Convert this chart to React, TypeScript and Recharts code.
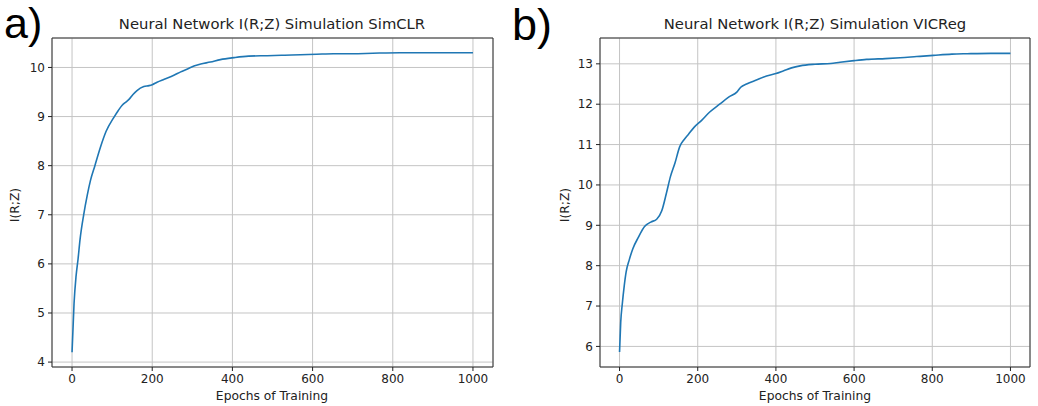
import { LineChart, Line, XAxis, YAxis, CartesianGrid, ReferenceArea } from "recharts";

// SimCLR run
const simclrEpochs = [
  0, 5, 10, 15, 20, 29, 38, 46, 57, 71, 85, 104, 115, 125, 135, 142, 152, 162, 179, 192, 200, 212, 230,
  254, 271, 288, 304, 321, 345, 370, 404, 440, 487, 530, 570, 610, 652, 700, 750, 818, 900, 1000,
];
const simclrValues = [
  4.2, 5.2, 5.75, 6.1, 6.5, 7.0, 7.4, 7.7, 8.0, 8.38, 8.7, 8.98, 9.12, 9.23, 9.3, 9.35, 9.45, 9.53, 9.61,
  9.63, 9.65, 9.7, 9.76, 9.84, 9.91, 9.97, 10.03, 10.07, 10.11, 10.16, 10.2, 10.23, 10.24, 10.25, 10.26,
  10.27, 10.28, 10.28, 10.29, 10.3, 10.3, 10.3,
];

// VICReg run
const vicregEpochs = [
  0, 3, 7, 12, 17, 25, 34, 48, 64, 80, 95, 108, 120, 130, 142, 154, 165, 176, 190, 210, 230, 256, 280,
  300, 310, 325, 350, 376, 400, 420, 440, 462, 500, 540, 564, 600, 632, 680, 718, 760, 803, 850, 889, 950,
  1000,
];
const vicregValues = [
  5.86, 6.6, 7.05, 7.5, 7.85, 8.15, 8.42, 8.7, 8.97, 9.08, 9.15, 9.36, 9.8, 10.2, 10.55, 10.95, 11.12, 11.25,
  11.42, 11.6, 11.8, 12.0, 12.18, 12.3, 12.42, 12.5, 12.6, 12.7, 12.76, 12.83, 12.9, 12.95, 12.99, 13.01,
  13.04, 13.08, 13.11, 13.13, 13.15, 13.18, 13.21, 13.24, 13.25, 13.26, 13.26,
];

const xTicks = [0, 200, 400, 600, 800, 1000];
const simclrTicks = [4, 5, 6, 7, 8, 9, 10];
const vicregTicks = [6, 7, 8, 9, 10, 11, 12, 13];

const FONT = "'DejaVu Sans', sans-serif";
const TICK = { fill: "#222", fontSize: 12, fontFamily: FONT };

interface PanelProps {
  epochs: number[];
  values: number[];
  yTicks: number[];
  yDomain: [number, number];
  width: number;
}

function Panel({ epochs, values, yTicks, yDomain, width }: PanelProps) {
  const rows = epochs.map((e, i) => ({ epoch: e, v: values[i] }));
  return (
    <LineChart
      width={width}
      height={406}
      data={rows}
      margin={{ top: 38, right: 8, bottom: 0, left: 0 }}
    >
      <CartesianGrid stroke="#c4c4c4" strokeWidth={1} />
      <XAxis
        dataKey="epoch"
        type="number"
        domain={[-50, 1050]}
        ticks={xTicks}
        height={39}
        tickSize={4}
        tickMargin={3}
        tick={TICK}
        stroke="#222"
        axisLine={false}
      />
      <YAxis
        type="number"
        domain={yDomain}
        ticks={yTicks}
        width={52}
        tickSize={4}
        tickMargin={3}
        tick={TICK}
        stroke="#222"
        axisLine={false}
        allowDataOverflow
      />
      <ReferenceArea
        x1={-50}
        x2={1050}
        y1={yDomain[0]}
        y2={yDomain[1]}
        fill="none"
        stroke="#333"
        strokeWidth={1}
      />
      <Line
        dataKey="v"
        type="monotone"
        stroke="#1f77b4"
        strokeWidth={1.6}
        dot={false}
        isAnimationActive={false}
      />
    </LineChart>
  );
}

const textBase: React.CSSProperties = {
  position: "absolute",
  fontFamily: FONT,
  color: "#222",
  whiteSpace: "nowrap",
  lineHeight: 1,
};

export default function App() {
  return (
    <div style={{ position: "absolute", left: 0, top: 0, width: 1038, height: 406, background: "#fff" }}>
      <div style={{ position: "absolute", left: 0, top: 0 }}>
        <Panel epochs={simclrEpochs} values={simclrValues} yTicks={simclrTicks} yDomain={[3.9, 10.6]} width={501} />
      </div>
      <div style={{ position: "absolute", left: 548, top: 0 }}>
        <Panel epochs={vicregEpochs} values={vicregValues} yTicks={vicregTicks} yDomain={[5.49, 13.64]} width={490} />
      </div>

      <div style={{ ...textBase, left: 272, top: 17, fontSize: 14.8, transform: "translateX(-50%)" }}>
        Neural Network I(R;Z) Simulation SimCLR
      </div>
      <div style={{ ...textBase, left: 815, top: 17, fontSize: 14.8, transform: "translateX(-50%)" }}>
        Neural Network I(R;Z) Simulation VICReg
      </div>

      <div style={{ ...textBase, left: 272, top: 390, fontSize: 12.3, transform: "translateX(-50%)" }}>
        Epochs of Training
      </div>
      <div style={{ ...textBase, left: 815, top: 390, fontSize: 12.3, transform: "translateX(-50%)" }}>
        Epochs of Training
      </div>

      <div style={{ ...textBase, left: 15, top: 205, fontSize: 12.3, transform: "translate(-50%, -50%) rotate(-90deg)" }}>
        I(R;Z)
      </div>
      <div style={{ ...textBase, left: 565, top: 205, fontSize: 12.3, transform: "translate(-50%, -50%) rotate(-90deg)" }}>
        I(R;Z)
      </div>

      <div style={{ ...textBase, left: 4, top: 2, fontSize: 43, fontFamily: "'Liberation Sans', Arial, sans-serif", color: "#000" }}>
        a)
      </div>
      <div style={{ ...textBase, left: 512, top: 2, fontSize: 45, fontFamily: "'Liberation Sans', Arial, sans-serif", color: "#000" }}>
        b)
      </div>
    </div>
  );
}
